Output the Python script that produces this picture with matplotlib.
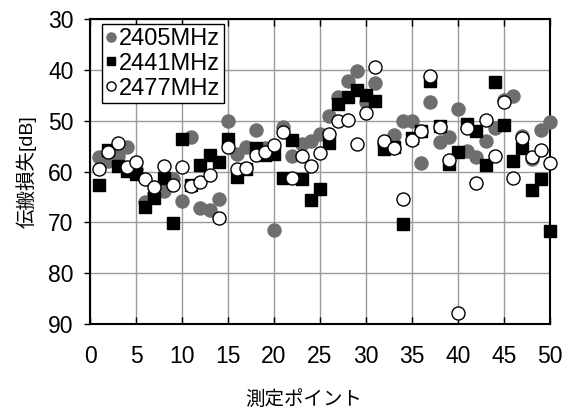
import matplotlib
matplotlib.use('Agg')
import matplotlib.pyplot as plt
import numpy as np

plt.rcParams['font.family'] = ['Liberation Sans', 'Noto Sans CJK JP', 'DejaVu Sans']

# measurement points 1..50
points = np.arange(1, 51)

loss_2405 = [57.1, 58.0, 56.9, 55.1, 59.5, 65.9, 64.5, 63.8, 61.5, 65.8,
             53.2, 67.1, 67.6, 65.3, 50.1, 56.6, 55.1, 51.8, 55.3, 71.5,
             51.3, 57.0, 54.6, 53.9, 52.6, 49.0, 45.4, 42.2, 40.2, 46.3,
             42.6, 54.5, 52.8, 50.0, 50.1, 58.4, 46.4, 54.1, 53.2, 47.7,
             55.9, 57.2, 53.9, 51.4, 46.0, 45.1, 53.0, 57.5, 51.8, 50.2]

loss_2441 = [62.6, 55.8, 58.9, 59.9, 60.4, 66.9, 65.1, 61.2, 70.1, 53.5,
             62.6, 58.7, 56.7, 58.2, 53.6, 61.0, 59.5, 55.3, 56.7, 56.6,
             61.3, 53.8, 61.5, 65.6, 63.5, 54.3, 46.7, 45.4, 43.9, 44.9,
             46.1, 55.6, 55.1, 70.4, 53.3, 52.1, 42.2, 51.0, 58.6, 56.2,
             50.7, 52.1, 58.7, 42.3, 50.8, 58.0, 55.4, 63.6, 61.5, 71.7]

loss_2477 = [59.4, 56.1, 54.3, 59.1, 58.1, 61.4, 63.0, 58.8, 62.6, 59.1,
             62.8, 62.0, 60.7, 69.1, 55.1, 59.5, 59.3, 56.8, 56.1, 54.7,
             52.2, 61.2, 57.0, 58.9, 56.3, 52.6, 50.0, 49.8, 54.6, 48.4,
             39.5, 53.9, 55.3, 65.3, 53.8, 52.0, 41.1, 51.3, 57.8, 87.8,
             51.4, 62.2, 49.8, 56.9, 46.4, 61.3, 53.3, 57.2, 55.8, 58.4]

labels = ['2405MHz', '2441MHz', '2477MHz']

fig = plt.figure(figsize=(5.7, 4.16), dpi=100)
ax = fig.add_axes([0.158, 0.221, 0.807, 0.733])

ax.plot(points, loss_2405, 'o', ms=9.4, mfc='#6e6e6e', mec='#6e6e6e',
        label=labels[0], zorder=3, clip_on=False)
ax.plot(points, loss_2441, 's', ms=9.2, mfc='black', mec='black',
        label=labels[1], zorder=4, clip_on=False)
ax.plot(points, loss_2477, 'o', ms=9.4, mfc='white', mec='black', mew=1.0,
        label=labels[2], zorder=5, clip_on=False)

ax.set_xlim(0, 50)
ax.set_ylim(90, 30)
ax.set_xticks(np.arange(0, 51, 5))
ax.set_yticks(np.arange(30, 91, 10))
ax.grid(True, color='#9a9a9a', lw=1.0)
ax.set_axisbelow(True)
for s in ax.spines.values():
    s.set_linewidth(1.5)
    s.set_color('black')
ax.tick_params(axis='x', direction='in', top=True, length=5, width=1,
               labelsize=16.5, pad=15)
ax.tick_params(axis='y', direction='out', length=4, width=1,
               labelsize=16.5, pad=8)

ax.set_ylabel('伝搬損失[dB]', fontsize=14, labelpad=8)
ax.set_xlabel('測定ポイント', fontsize=14)
ax.xaxis.set_label_coords(0.465, -0.215)

leg = ax.legend(loc='upper left', bbox_to_anchor=(0.025, 0.983),
                fontsize=17, markerscale=0.7, handlelength=0.5,
                handletextpad=0.1, borderpad=0.15, labelspacing=0.12,
                borderaxespad=0.0, fancybox=False, framealpha=1,
                edgecolor='black')
leg.get_frame().set_linewidth(1.0)

fig.savefig('out.png', dpi=100)
